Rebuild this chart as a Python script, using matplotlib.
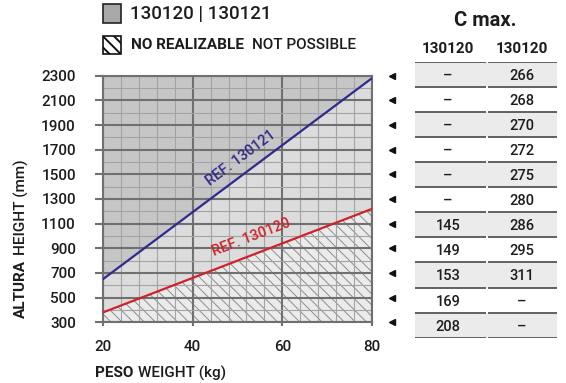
import numpy as np
import matplotlib
matplotlib.use("Agg")
import matplotlib.pyplot as plt
from matplotlib.patches import Rectangle
from matplotlib.transforms import blended_transform_factory

plt.rcParams['font.family'] = ['Roboto', 'DejaVu Sans']
plt.rcParams['font.weight'] = 'medium'

# ---- data -------------------------------------------------------------
weight = [20, 80]                      # kg
ref_130121 = [650, 2280]               # height limit (mm), REF. 130121
ref_130120 = [380, 1220]               # height limit (mm), REF. 130120

weight_ticks = [20, 40, 60, 80]
height_ticks = [300, 500, 700, 900, 1100, 1300, 1500, 1700, 1900, 2100, 2300]

table_heights = [2300, 2100, 1900, 1700, 1500, 1300, 1100, 900, 700, 500, 300]
cmax_col1 = [None, None, None, None, None, None, 145, 149, 153, 169, 208]
cmax_col2 = [266, 268, 270, 272, 275, 280, 286, 295, 311, None, None]
col_headers = ["130120", "130120"]

# ---- styling ----------------------------------------------------------
W, H = 566, 383
DARK = "#c6c6c6"
LIGHT = "#dcdcdc"
HATCH_BG = "#ebebeb"
MAJOR = "#707070"
MINOR = "#a3a3a3"
BLUE = "#2e2b8c"
RED = "#d0222a"
TXT = "#1c1c1c"


def fx(px):
    return px / W


def fy(py):
    return 1 - py / H


fig = plt.figure(figsize=(W / 100, H / 100), dpi=100)
fig.patch.set_facecolor("white")

# ---- main chart -------------------------------------------------------
ax_l, ax_r, ax_t, ax_b = 103, 372, 75.7, 322.3
ax = fig.add_axes([fx(ax_l), fy(ax_b), (ax_r - ax_l) / W, (ax_b - ax_t) / H])
ax.set_xlim(weight_ticks[0], weight_ticks[-1])
ax.set_ylim(height_ticks[0], height_ticks[-1])

x = np.array(weight, dtype=float)
y_hi = np.array(ref_130121, dtype=float)
y_lo = np.array(ref_130120, dtype=float)
ymin, ymax = height_ticks[0], height_ticks[-1]

ax.fill_between(x, y_hi, ymax, color=DARK, lw=0, zorder=0.5)
ax.fill_between(x, y_lo, y_hi, color=LIGHT, lw=0, zorder=0.5)
plt.rcParams['hatch.linewidth'] = 0.7
ax.fill_between(x, ymin, y_lo, facecolor=HATCH_BG, edgecolor="#8c8c8c",
                hatch="\\\\\\", lw=0, zorder=0.5)

ax.set_axisbelow('line')
ax.set_xticks(weight_ticks)
ax.set_yticks(height_ticks)
ax.set_xticks(np.arange(weight_ticks[0], weight_ticks[-1] + 0.1, 4), minor=True)
ax.set_yticks(np.arange(ymin, ymax + 1, 100), minor=True)
ax.grid(which="minor", color=MINOR, lw=0.8)
ax.grid(which="major", color=MAJOR, lw=1.5)
for s in ax.spines.values():
    s.set_color(MAJOR)
    s.set_linewidth(1.5)
    s.set_zorder(2.6)

ax.tick_params(axis="y", which="major", length=6, width=1.5, color=MAJOR,
               pad=13.5, labelsize=11, labelcolor=TXT)
ax.tick_params(axis="x", which="major", length=3, width=1.5, color=MAJOR,
               pad=10, labelsize=11, labelcolor=TXT)
ax.tick_params(which="minor", length=0)

ax.plot(x, y_hi, color=BLUE, lw=1.6, zorder=3)
ax.plot(x, y_lo, color=RED, lw=1.6, zorder=3)

ang_hi = np.degrees(np.arctan2(y_hi[1] - y_hi[0], x[1] - x[0]))
ang_lo = np.degrees(np.arctan2(y_lo[1] - y_lo[0], x[1] - x[0]))
ax.text(50.8, 1630, "REF. 130121", color=BLUE, fontsize=10.5, rotation=ang_hi,
        transform_rotates_text=True, rotation_mode="anchor",
        ha="center", va="center", zorder=4)
ax.text(53.0, 985, "REF. 130120", color=RED, fontsize=10.5, rotation=ang_lo,
        transform_rotates_text=True, rotation_mode="anchor",
        ha="center", va="center", zorder=4)

# row markers to the right of the chart
side = blended_transform_factory(ax.transAxes, ax.transData)
ax.plot([(392 - ax_l) / (ax_r - ax_l)] * len(table_heights), table_heights,
        ls="none", marker="<", ms=4.5, color="#111111", transform=side,
        clip_on=False)

# ---- table ------------------------------------------------------------
tb_top, tb_bot = 61.7, 337.7
tax = fig.add_axes([fx(400), fy(tb_bot), 166 / W, (tb_bot - tb_top) / H])
tax.set_xlim(400, 566)
tax.set_ylim(table_heights[-1] - 100, table_heights[0] + 100)
tax.axis("off")

shaded = table_heights[::2]
tax.barh(shaded, 557 - 415, left=415, height=200, color="#ebebeb", lw=0, zorder=1)
bounds = [h + 100 for h in table_heights] + [table_heights[-1] - 100]
tax.hlines(bounds, 415, 486.3, color="#555555", lw=1.3, zorder=2)
tax.hlines(bounds, 487.7, 557, color="#555555", lw=1.3, zorder=2)

col_x = [448, 522]
for h, a, b in zip(table_heights, cmax_col1, cmax_col2):
    for cx, v in zip(col_x, (a, b)):
        tax.text(cx, h, "–" if v is None else str(v), ha="center",
                 va="center_baseline", fontsize=10.5, color=TXT, zorder=3)

fig.text(fx(485), fy(21), "C max.", ha="center", va="center", fontsize=14.5,
         fontweight="bold", color=TXT)
for cx, lab in zip(col_x, col_headers):
    fig.text(fx(cx), fy(49), lab, ha="center", va="center", fontsize=11,
             fontweight="bold", color=TXT)

# ---- legend -----------------------------------------------------------
fig.patches.append(Rectangle((fx(102.5), fy(22.5)), 18 / W, 18 / H,
                             transform=fig.transFigure, facecolor="#a8a8a8",
                             edgecolor="#222222", lw=1.2))
plt.rcParams['hatch.linewidth'] = 1.4
fig.patches.append(Rectangle((fx(102.5), fy(54)), 18 / W, 18 / H,
                             transform=fig.transFigure, facecolor="white",
                             edgecolor="#111111", hatch="\\\\\\", lw=1.2))
fig.text(fx(130), fy(14), "130120 | 130121", ha="left", va="center",
         fontsize=13.5, color=TXT)

renderer = fig.canvas.get_renderer()


def chain(parts, x0, y0, rotation=0, gap=5, **kw):
    """Lay out text pieces one after another (left-to-right or bottom-to-top)."""
    pos = [x0, y0]
    for txt, weight_ in parts:
        if rotation == 90:
            t = fig.text(fx(pos[0]), fy(pos[1]), txt, rotation=90, ha="center",
                         va="bottom", fontweight=weight_, **kw)
            bb = t.get_window_extent(renderer)
            pos[1] -= bb.height + gap
        else:
            t = fig.text(fx(pos[0]), fy(pos[1]), txt, ha="left", va="center",
                         fontweight=weight_, **kw)
            bb = t.get_window_extent(renderer)
            pos[0] += bb.width + gap


chain([("NO REALIZABLE", "bold"), ("NOT POSSIBLE", "medium")], 131, 45,
      gap=8, fontsize=11, color=TXT)
chain([("PESO", "bold"), ("WEIGHT (kg)", "medium")], 95, 373,
      gap=5, fontsize=11, color=TXT)
chain([("ALTURA", "bold"), ("HEIGHT (mm)", "medium")], 21, 318,
      rotation=90, gap=5, fontsize=11, color=TXT)

fig.savefig("out.png", dpi=100)
